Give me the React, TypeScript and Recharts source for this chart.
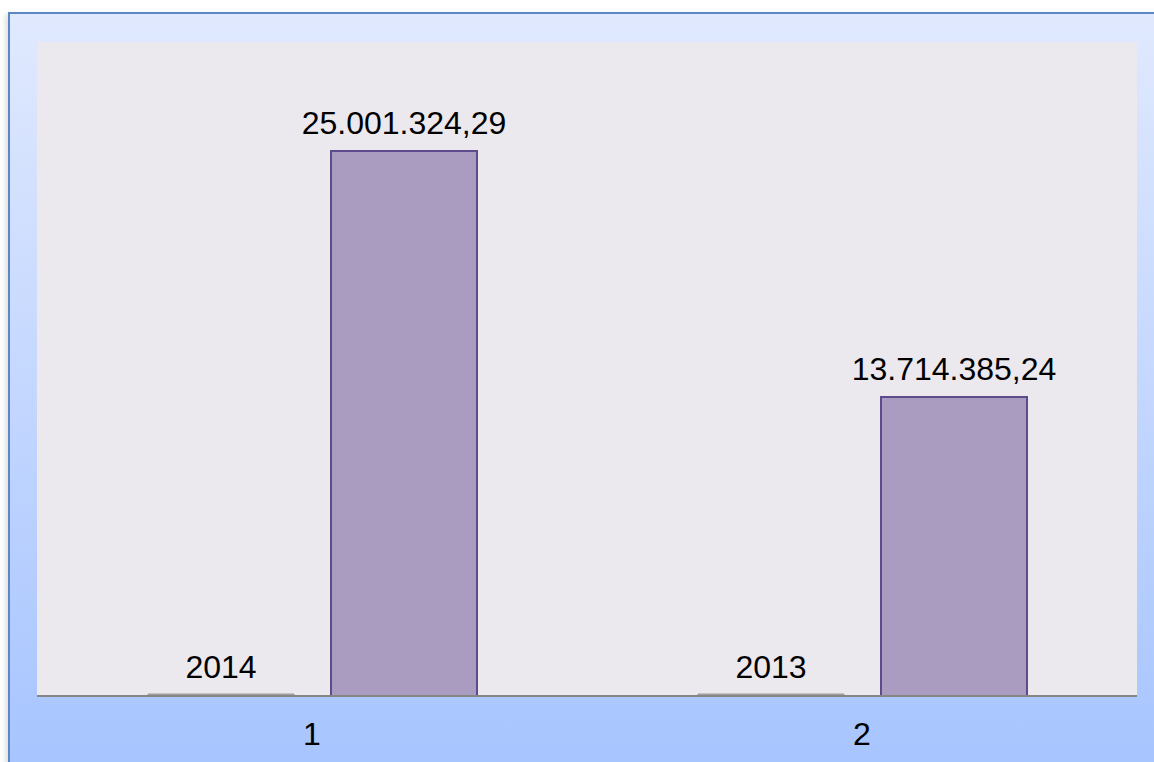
import { Bar, BarChart, CartesianGrid, LabelList, XAxis, YAxis } from "recharts";

const categories = ["1", "2"];
const yearValues = [2014, 2013];
const amountValues = [25001324.29, 13714385.24];

const data = categories.map((name, i) => ({
  name,
  year: yearValues[i],
  amount: amountValues[i],
}));

const FONT = '"Liberation Sans", Arial, sans-serif';

// 25001324.29 -> "25.001.324,29"
function formatAmount(v: number) {
  const [int, dec] = v.toFixed(2).split(".");
  return int.replace(/\B(?=(\d{3})+(?!\d))/g, ".") + "," + dec;
}

export default function App() {
  return (
    <div
      style={{
        position: "fixed",
        left: 0,
        top: 0,
        width: 1154,
        height: 762,
        overflow: "hidden",
        background: "#fff",
      }}
    >
      <div
        style={{
          position: "absolute",
          left: 8,
          top: 12,
          width: 1160,
          height: 770,
          border: "2px solid #5B87C4",
          boxSizing: "border-box",
          background: "linear-gradient(to bottom, #E0E9FE 0%, #A6C4FF 100%)",
          boxShadow: "-3px 2px 5px rgba(0,0,0,0.12)",
        }}
      />
      <div style={{ position: "absolute", left: 0, top: 0 }}>
        <BarChart
          width={1154}
          height={762}
          data={data}
          margin={{ top: 42, right: 17, bottom: 16, left: 37 }}
          barSize={146}
          barGap={37}
          style={{ fontFamily: FONT }}
        >
          <CartesianGrid fill="#ECE9EE" horizontal={false} vertical={false} stroke="none" />
          <XAxis
            dataKey="name"
            height={50}
            tickLine={false}
            tickSize={0}
            tickMargin={26}
            axisLine={{ stroke: "#868686", strokeWidth: 2 }}
            tick={{ fill: "#000", fontSize: 32, fontFamily: FONT }}
          />
          <YAxis hide domain={[0, 30000000]} />
          <Bar
            dataKey="year"
            fill="#A8A8A8"
            stroke="#9A9A9A"
            strokeWidth={1}
            minPointSize={2}
            isAnimationActive={false}
          >
            <LabelList
              dataKey="year"
              position="top"
              offset={16}
              fill="#000"
              fontSize={32}
              fontFamily={FONT}
            />
          </Bar>
          <Bar dataKey="amount" fill="#AA9BC0" stroke="#5E4B8B" strokeWidth={2} isAnimationActive={false}>
            <LabelList
              dataKey="amount"
              position="top"
              offset={17}
              fill="#000"
              fontSize={32}
              fontFamily={FONT}
              formatter={(v: any) => formatAmount(Number(v))}
            />
          </Bar>
        </BarChart>
      </div>
    </div>
  );
}
